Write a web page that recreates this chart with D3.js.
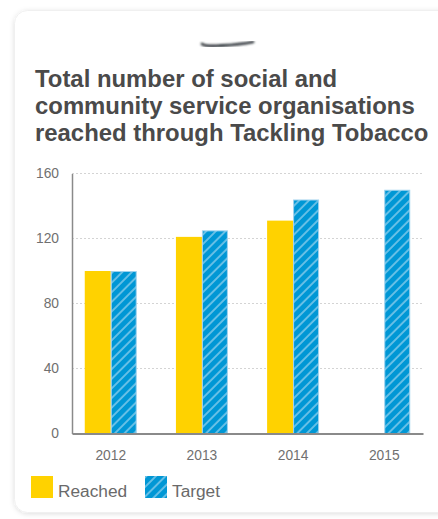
<!DOCTYPE html>
<html>
<head>
<meta charset="utf-8">
<script src="https://cdn.jsdelivr.net/npm/d3@7"></script>
<style>
  body { margin: 0; background: #fff; font-family: "Liberation Sans", Arial, sans-serif; }
</style>
</head>
<body>
<div id="chart"></div>
<script>
var years = ["2012", "2013", "2014", "2015"]
var reached = [100, 121, 131, null]
var target = [100, 125, 144, 150]
var yTicks = [0, 40, 80, 120, 160]
var titleLines = ["Total number of social and", "community service organisations", "reached through Tackling Tobacco"]
var seriesNames = ["Reached", "Target"]

var W = 438, H = 519
var margin = {top: 173.5, left: 72, right: 15, bottom: 85.5}
var width = W - margin.left - margin.right,
    height = H - margin.top - margin.bottom

var svg = d3.select("#chart").append("svg")
    .attr("width", W)
    .attr("height", H)

var defs = svg.append("defs")

// soft card shadow
var f = defs.append("filter").attr("id", "shadow")
    .attr("x", "-10%").attr("y", "-10%").attr("width", "120%").attr("height", "120%")
f.append("feDropShadow").attr("dx", 0).attr("dy", 1).attr("stdDeviation", 2.5)
    .attr("flood-color", "#000").attr("flood-opacity", 0.13)

defs.append("filter").attr("id", "blur")
    .append("feGaussianBlur").attr("stdDeviation", 0.8)

// hatched pattern for target bars
var pat = defs.append("pattern").attr("id", "hatch")
    .attr("patternUnits", "userSpaceOnUse")
    .attr("width", 6.8).attr("height", 6.8)
    .attr("patternTransform", "rotate(45)")
pat.append("rect").attr("width", 6.8).attr("height", 6.8).attr("fill", "#0097d5")
pat.append("line").attr("x1", 1).attr("x2", 1).attr("y1", 0).attr("y2", 6.8)
    .attr("stroke", "#b5def3").attr("stroke-width", 1.1)

// card
svg.append("rect")
    .attr("x", 14.5).attr("y", 10.5)
    .attr("width", 460).attr("height", 502)
    .attr("rx", 13)
    .attr("fill", "#fff")
    .attr("stroke", "#f0f0f0")
    .attr("filter", "url(#shadow)")

// little brush mark above title
svg.append("path")
    .attr("d", "M202,44 Q206,47 222,45.5 Q240,44.5 253,42")
    .attr("fill", "none")
    .attr("stroke", "#33383d")
    .attr("stroke-width", 2.8)
    .attr("stroke-linecap", "round")
    .attr("filter", "url(#blur)")

// title
svg.append("g").selectAll("text")
    .data(titleLines)
    .enter().append("text")
    .attr("x", 35)
    .attr("y", function(d, i) { return 86.5 + i * 27.3 })
    .attr("font-size", "23.9px")
    .attr("font-weight", "bold")
    .attr("fill", "#4a4a4a")
    .text(function(d) { return d })

var g = svg.append("g")
    .attr("transform", "translate(" + margin.left + "," + margin.top + ")")

var x = d3.scaleBand()
    .domain(years)
    .range([0, width])
    .paddingInner(0.43)
    .paddingOuter(0.14)

var xSub = d3.scaleBand()
    .domain(seriesNames)
    .range([0, x.bandwidth()])

var y = d3.scaleLinear()
    .domain([0, 160])
    .range([height, 0])

// gridlines
g.append("g").selectAll("line")
    .data(yTicks.slice(1))
    .enter().append("line")
    .attr("x1", 0).attr("x2", width)
    .attr("y1", function(d) { return y(d) }).attr("y2", function(d) { return y(d) })
    .attr("stroke", "#d4d4d4")
    .attr("stroke-dasharray", "2,2")

// bars
var data = years.map(function(yr, i) { return {year: yr, Reached: reached[i], Target: target[i]} })

var groups = g.append("g").selectAll("g")
    .data(data)
    .enter().append("g")
    .attr("transform", function(d) { return "translate(" + x(d.year) + ",0)" })

groups.filter(function(d) { return d.Reached != null })
    .append("rect")
    .attr("x", xSub("Reached"))
    .attr("y", function(d) { return y(d.Reached) })
    .attr("width", xSub.bandwidth())
    .attr("height", function(d) { return height - y(d.Reached) })
    .attr("fill", "#ffd200")

groups.append("rect")
    .attr("x", xSub("Target") + 0.5)
    .attr("y", function(d) { return y(d.Target) + 0.5 })
    .attr("width", xSub.bandwidth() - 1)
    .attr("height", function(d) { return height - y(d.Target) - 0.5 })
    .attr("fill", "url(#hatch)")
    .attr("stroke", "#9fd2ee")
    .attr("stroke-width", 1)

// axes
var yAxis = g.append("g")
    .call(d3.axisLeft(y).tickValues(yTicks).tickSize(0).tickPadding(13))
yAxis.select(".domain").attr("stroke", "#8a8a8a").attr("stroke-width", 1.5)
yAxis.selectAll("text")
    .attr("font-family", "Liberation Sans, Arial, sans-serif")
    .attr("font-size", "13.8px")
    .attr("fill", "#707070")

var xAxis = g.append("g")
    .attr("transform", "translate(0," + height + ")")
    .call(d3.axisBottom(x).tickSize(0).tickPadding(17))
xAxis.select(".domain").attr("stroke", "#8a8a8a").attr("stroke-width", 1.8)
xAxis.selectAll("text")
    .attr("font-family", "Liberation Sans, Arial, sans-serif")
    .attr("font-size", "13.8px")
    .attr("fill", "#707070")

// legend
var legendX = [31, 145]
var legend = svg.append("g").selectAll("g")
    .data(seriesNames)
    .enter().append("g")
    .attr("transform", function(d, i) { return "translate(" + legendX[i] + ",476)" })

legend.append("rect")
    .attr("width", 22).attr("height", 22)
    .attr("fill", function(d) { return d == "Reached" ? "#ffd200" : "url(#hatch)" })

legend.append("text")
    .attr("x", 27)
    .attr("y", 21)
    .attr("font-size", "17.3px")
    .attr("fill", "#6a6a6a")
    .text(function(d) { return d })
</script>
</body>
</html>
